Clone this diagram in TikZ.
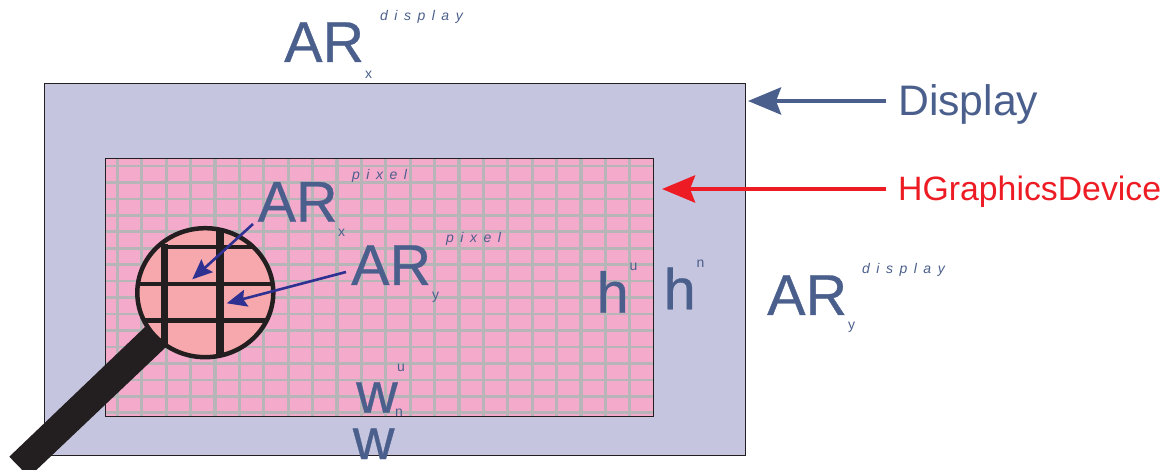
\documentclass[tikz,border=0pt]{standalone}
\usepackage{fontspec}
\setmainfont{Liberation Sans}
\newfontfamily\heavyface[FakeBold=0.6]{Liberation Sans}
\usetikzlibrary{arrows.meta}
\definecolor{lav}{HTML}{C6C5E0}
\definecolor{pinkc}{HTML}{F4AACB}
\definecolor{gridc}{HTML}{B7B5B8}
\definecolor{lensc}{HTML}{F7A8AC}
\definecolor{inkc}{HTML}{231F20}
\definecolor{slate}{HTML}{4A5F8C}
\definecolor{bluec}{HTML}{2E3192}
\definecolor{redc}{HTML}{ED1C24}
\newcommand\wideword[1]{\spaceskip=6.5pt\relax #1}
\tikzset{
 big/.style={anchor=base west,inner sep=0pt,text=slate,font=\heavyface\fontsize{57.5}{60}\selectfont},
 tiny/.style={anchor=base west,inner sep=0pt,text=slate,font=\fontsize{14}{16}\selectfont},
 spaced/.style={anchor=base west,inner sep=0pt,text=slate,font=\fontsize{14}{16}\selectfont\itshape},
 panel/.style={draw=inkc,line width=0.9pt,inner sep=0pt,outer sep=0pt,anchor=north west},
 longarrow/.style={line width=4.5pt,-{Stealth[length=33pt,width=27pt,inset=5pt]}},
 lensarrow/.style={bluec,line width=2.6pt,-{Stealth[length=20pt,width=17pt,inset=3pt]}},
 heavy/.style={inkc},
}
\begin{document}
\begin{tikzpicture}[x=1pt,y=-1pt]
\useasboundingbox (0,0) rectangle (1168,470);
% panels
\node[panel,fill=lav,minimum width=701pt,minimum height=371.7pt] (displaybox) at (44.3,83.3) {};
\fill[pinkc] (105.3,158.3) rectangle (653,416.7);
\begin{scope}
\clip (105.3,158.3) rectangle (653,416.7);
\foreach \k in {0,...,21} \draw[gridc,line width=3.2pt] ({117.3+24.4*\k},158) -- ({117.3+24.4*\k},416.7);
\foreach \k in {0,...,15} \draw[gridc,line width=2.6pt] (105.3,{166+16.45*\k}) -- (653,{166+16.45*\k});
\end{scope}
\node[panel,minimum width=547.7pt,minimum height=258.4pt] (pixelbox) at (105.3,158.3) {};
% lens
\fill[lensc] (205.3,292.7) ellipse [x radius=68pt,y radius=64.5pt];
\begin{scope}
\clip (205.3,292.7) ellipse [x radius=68pt,y radius=64.5pt];
\draw[heavy,line width=6.5pt] (164.3,244) -- (164.3,365);
\draw[heavy,line width=8pt] (220,220) -- (220,365);
\draw[heavy,line width=4pt] (161,247) -- (280,247);
\draw[heavy,line width=4.5pt] (130,284) -- (280,284);
\draw[heavy,line width=5pt] (130,320.3) -- (280,320.3);
\end{scope}
\draw[inkc,line width=4.5pt] (205.3,292.7) ellipse [x radius=68pt,y radius=64.5pt];
\fill[inkc] (145,327) -- (166,347) -- (29,477) -- (9.3,456.7) -- cycle;
% labels
\node[big] (ardx) at (284,62) {AR};
\node[tiny] (ardxs) at (365,79) {x};
\node[spaced] (ardxt) at (380,21) {\wideword{d i s p l a y}};
\node[big] (arpx) at (257.5,221.7) {AR};
\node[tiny] (arpxs) at (338,237) {x};
\node[spaced] (arpxt) at (352,180) {\wideword{p i x e l}};
\node[big] (arpy) at (351,285) {AR};
\node[tiny] (arpys) at (432,300) {y};
\node[spaced] (arpyt) at (446,243) {\wideword{p i x e l}};
\node[big] (hu) at (596.5,312.7) {h};
\node[tiny] (hus) at (629.5,271) {u};
\node[big] (hn) at (663.5,309.3) {h};
\node[tiny] (hns) at (696.5,268) {n};
\node[big] (ardy) at (767,315) {AR};
\node[tiny] (ardys) at (848,330) {y};
\node[spaced] (ardyt) at (862,273.3) {\wideword{d i s p l a y}};
\node[big] (wu) at (356,412.7) {w};
\node[tiny] (wus) at (397,372) {u};
\node[big] (wn) at (352.7,459) {w};
\node[tiny] (wns) at (395,417) {n};
\node[anchor=west,inner xsep=12pt,inner ysep=0pt,text height=29pt,text depth=0pt,text=slate,font=\fontsize{42.7}{46}\selectfont] (displaylabel) at (886,101) {Display};
\node[anchor=west,inner xsep=12pt,inner ysep=0pt,text height=24pt,text depth=0pt,text=redc,font=\fontsize{33.8}{36}\selectfont] (hgd) at (886,189) {HGraphicsDevice};
% connectors
\coordinate (disptip) at (748,101);
\coordinate (hgdtip) at (662,189);
\coordinate (xfrom) at (253,224);
\coordinate (xtip) at (192.3,279.3);
\coordinate (yfrom) at (346,272);
\coordinate (ytip) at (226.7,303.3);
\draw[longarrow,slate] (displaylabel.west) -- (disptip);
\draw[longarrow,redc] (hgd.west) -- (hgdtip);
\draw[lensarrow] (xfrom) -- (xtip);
\draw[lensarrow] (yfrom) -- (ytip);
\end{tikzpicture}
\end{document}
